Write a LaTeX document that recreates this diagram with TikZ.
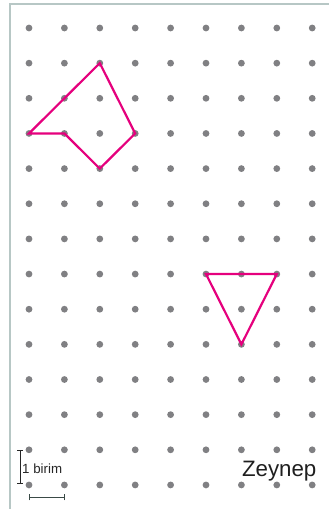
\documentclass[tikz,border=0pt]{standalone}
\usepackage{fontspec}
\setmainfont{Liberation Sans}
\definecolor{dotgray}{HTML}{808083}
\definecolor{mag}{HTML}{E5007D}
\definecolor{frame}{HTML}{B7C7C5}
\definecolor{bardark}{HTML}{3A4A46}
\begin{document}
\begin{tikzpicture}[x=1pt,y=-1pt,
  griddot/.style={fill=dotgray,draw=none},
  shapeline/.style={draw=mag,line width=2.2pt,line join=miter},
  scalebar/.style={line width=1pt}]
\useasboundingbox (0,0) rectangle (329,509);
% frame
\draw[frame,line width=2pt] (9.7,509) -- (9.7,4) -- (329,4);
% dots
\foreach \c in {0,...,8}{
  \foreach \r in {0,...,13}{
    \fill[griddot] ({29+35.4*\c},{28+35.15*\r}) circle (3.4);
  }
}
% grid coordinates
\foreach \c in {0,...,8}{
  \foreach \r in {0,...,13}{
    \coordinate (p\c-\r) at ({29+35.4*\c},{28+35.15*\r});
  }
}
% pentagon
\draw[shapeline] (p0-3) -- (p1-3) -- (p2-4) -- (p3-3) -- (p2-1) -- cycle;
% triangle
\draw[shapeline] (p5-7) -- (p7-7) -- (p6-9) -- cycle;
% scale bars
\coordinate (vt) at (20,450);
\coordinate (vb) at (20,483.5);
\draw[scalebar,black!85] (vt) -- (vb);
\draw[scalebar,black!85] ([xshift=-2.7pt]vt) -- ([xshift=2.7pt]vt);
\draw[scalebar,black!85] ([xshift=-2.7pt]vb) -- ([xshift=2.7pt]vb);
\coordinate (hl) at (29.3,497.3);
\coordinate (hr) at (64.5,497.3);
\draw[scalebar,bardark] (hl) -- (hr);
\draw[scalebar,bardark] ([yshift=-3pt]hl) -- ([yshift=3pt]hl);
\draw[scalebar,bardark] ([yshift=-3pt]hr) -- ([yshift=3pt]hr);
% labels
\node[anchor=base,inner sep=0pt,font=\fontsize{13.3}{15}\selectfont,text=black!85] (unit) at (42.2,473.3) {1 birim};
\node[anchor=base,inner sep=0pt,font=\fontsize{22.3}{26}\selectfont,text=black!88] (name) at (279.2,476) {Zeynep};
\end{tikzpicture}
\end{document}
